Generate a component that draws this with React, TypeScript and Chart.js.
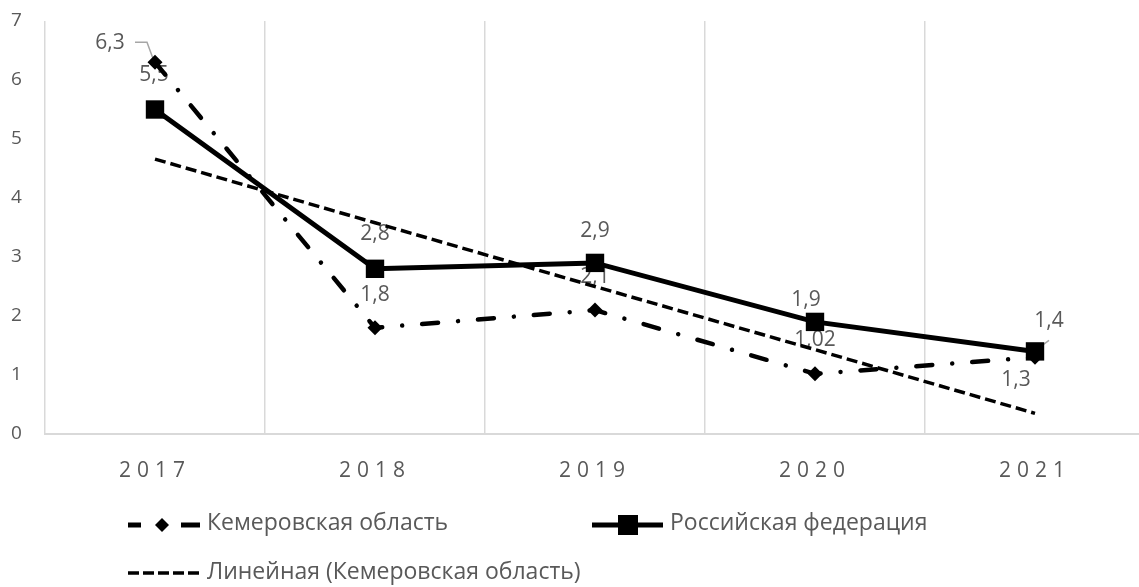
import React, { useEffect, useRef } from "react";
import { Chart, registerables } from "chart.js";

Chart.register(...registerables);

// ---- data ----
const categories = ["2017", "2018", "2019", "2020", "2021"];
const kemerovo = [6.3, 1.8, 2.1, 1.02, 1.3];
const russia = [5.5, 2.8, 2.9, 1.9, 1.4];
const kemerovoTrend = [4.66, 3.58, 2.5, 1.43, 0.35];
const yMin = 0;
const yMax = 7;
const yStep = 1;
const seriesNames = [
  "Кемеровская область",
  "Российская федерация",
  "Линейная (Кемеровская область)",
];

// ---- styling ----
const FONT = "'Open Sans', 'Noto Sans', sans-serif";
const TEXT = "#595959";
const GRID = "#d9d9d9";

// label placement (pixel offsets from each point)
const kemerovoLabelOffsets = [
  [-45, -19],
  [0, -33],
  [0, -33],
  [0, -34],
  [-19, 23],
];
const russiaLabelOffsets = [
  [-1, -34],
  [0, -35],
  [0, -32],
  [-9, -22],
  [14, -30],
];
const kemerovoLeaders: (number[][] | null)[] = [
  [
    [-20, -20],
    [-8, -20],
    [-1, -1],
  ],
  null,
  null,
  null,
  null,
];
const russiaLeaders: (number[][] | null)[] = [
  null,
  null,
  null,
  null,
  [
    [14, -11],
    [-1, 0],
  ],
];

const fmt = (v: number) => String(v).replace(".", ",");

const labelPlugin = {
  id: "valueLabels",
  beforeDraw(chart: any) {
    chart.ctx.letterSpacing = "6px";
  },
  beforeDatasetsDraw(chart: any) {
    const ctx = chart.ctx;
    ctx.letterSpacing = "0px";
    ctx.save();
    const sets = [
      { idx: 0, values: kemerovo, offsets: kemerovoLabelOffsets, leaders: kemerovoLeaders },
      { idx: 1, values: russia, offsets: russiaLabelOffsets, leaders: russiaLeaders },
    ];
    ctx.font = `21px ${FONT}`;
    ctx.fillStyle = TEXT;
    ctx.textAlign = "center";
    ctx.textBaseline = "middle";
    sets.forEach((set) => {
      const meta = chart.getDatasetMeta(set.idx);
      meta.data.forEach((pt: any, i: number) => {
        const lead = set.leaders[i];
        if (lead) {
          ctx.strokeStyle = "#a6a6a6";
          ctx.lineWidth = 1.5;
          ctx.beginPath();
          lead.forEach(([lx, ly], k) => {
            if (k === 0) ctx.moveTo(pt.x + lx, pt.y + ly);
            else ctx.lineTo(pt.x + lx, pt.y + ly);
          });
          ctx.stroke();
        }
        const [dx, dy] = set.offsets[i];
        ctx.fillText(fmt(set.values[i]), pt.x + dx, pt.y + dy);
      });
    });
    ctx.restore();
  },
  afterDraw(chart: any) {
    const ctx = chart.ctx;
    ctx.save();
    ctx.letterSpacing = "0px";
    ctx.strokeStyle = "#000";
    ctx.fillStyle = "#000";
    const line = (x1: number, y1: number, x2: number, y2: number) => {
      ctx.beginPath();
      ctx.moveTo(x1, y1);
      ctx.lineTo(x2, y2);
      ctx.stroke();
    };
    // row 1 : Kemerovo
    const y1 = 525;
    ctx.lineWidth = 5;
    ctx.lineCap = "butt";
    line(128, y1, 141, y1);
    line(181, y1, 200, y1);
    const r = 7;
    ctx.beginPath();
    ctx.moveTo(162, y1 - r);
    ctx.lineTo(162 + r, y1);
    ctx.lineTo(162, y1 + r);
    ctx.lineTo(162 - r, y1);
    ctx.closePath();
    ctx.fill();
    // row 1 : Russia
    ctx.lineWidth = 5;
    line(592, y1, 663, y1);
    ctx.fillRect(628 - 10, y1 - 10, 20, 20);
    // row 2 : trend
    const y2 = 573;
    ctx.lineWidth = 3.5;
    ctx.setLineDash([11, 4]);
    line(128, y2, 203, y2);
    ctx.setLineDash([]);

    ctx.fillStyle = TEXT;
    ctx.font = `23px ${FONT}`;
    ctx.textAlign = "left";
    ctx.textBaseline = "middle";
    ctx.fillText(seriesNames[0], 207, 523);
    ctx.fillText(seriesNames[1], 670, 523);
    ctx.fillText(seriesNames[2], 207, 572);
    ctx.restore();
  },
};

export default function App() {
  const ref = useRef<HTMLCanvasElement | null>(null);

  useEffect(() => {
    if (!ref.current) return;
    const chart = new Chart(ref.current, {
      type: "line",
      data: {
        labels: categories,
        datasets: [
          {
            label: seriesNames[0],
            data: kemerovo,
            borderColor: "#000",
            backgroundColor: "#000",
            borderWidth: 4.5,
            borderDash: [16, 20, 0.01, 20],
            borderCapStyle: "round",
            pointStyle: "rectRot",
            pointRadius: 7.5,
            pointBorderWidth: 0,
            tension: 0,
            order: 2,
          },
          {
            label: seriesNames[1],
            data: russia,
            borderColor: "#000",
            backgroundColor: "#000",
            borderWidth: 5,
            pointStyle: "rect",
            pointRadius: 13,
            pointBorderWidth: 0,
            tension: 0,
            order: 1,
          },
          {
            label: seriesNames[2],
            data: kemerovoTrend,
            borderColor: "#000",
            backgroundColor: "#000",
            borderWidth: 3.5,
            borderDash: [11, 5],
            pointRadius: 0,
            tension: 0,
            order: 3,
          },
        ],
      },
      options: {
        responsive: false,
        maintainAspectRatio: false,
        devicePixelRatio: 1,
        animation: false,
        layout: { padding: { top: 21, right: 5, left: 11, bottom: 0 } },
        plugins: {
          legend: { display: false },
          tooltip: { enabled: false },
        },
        scales: {
          x: {
            offset: true,
            grid: { offset: true, color: GRID, lineWidth: 1.5, drawTicks: false },
            border: { display: true, color: GRID, width: 2 },
            ticks: { color: TEXT, font: { family: FONT, size: 21 }, padding: 24 },
            afterFit: (s: any) => {
              s.height = 153;
            },
          },
          y: {
            min: yMin,
            max: yMax,
            ticks: {
              stepSize: yStep,
              color: TEXT,
              font: { family: FONT, size: 19 },
              padding: 0,
              crossAlign: "far",
            },
            grid: { display: false, drawTicks: false },
            border: { display: false },
            afterFit: (s: any) => {
              s.width = 34;
            },
          },
        },
      },
      plugins: [labelPlugin],
    });
    (document as any).fonts?.ready?.then(() => chart.update());
    return () => chart.destroy();
  }, []);

  return (
    <div
      style={{
        position: "fixed",
        left: 0,
        top: 0,
        width: 1139,
        height: 587,
        overflow: "hidden",
        background: "#fff",
      }}
    >
      <canvas
        ref={ref}
        width={1158}
        height={587}
        style={{ display: "block", width: 1158, height: 587 }}
      />
    </div>
  );
}
